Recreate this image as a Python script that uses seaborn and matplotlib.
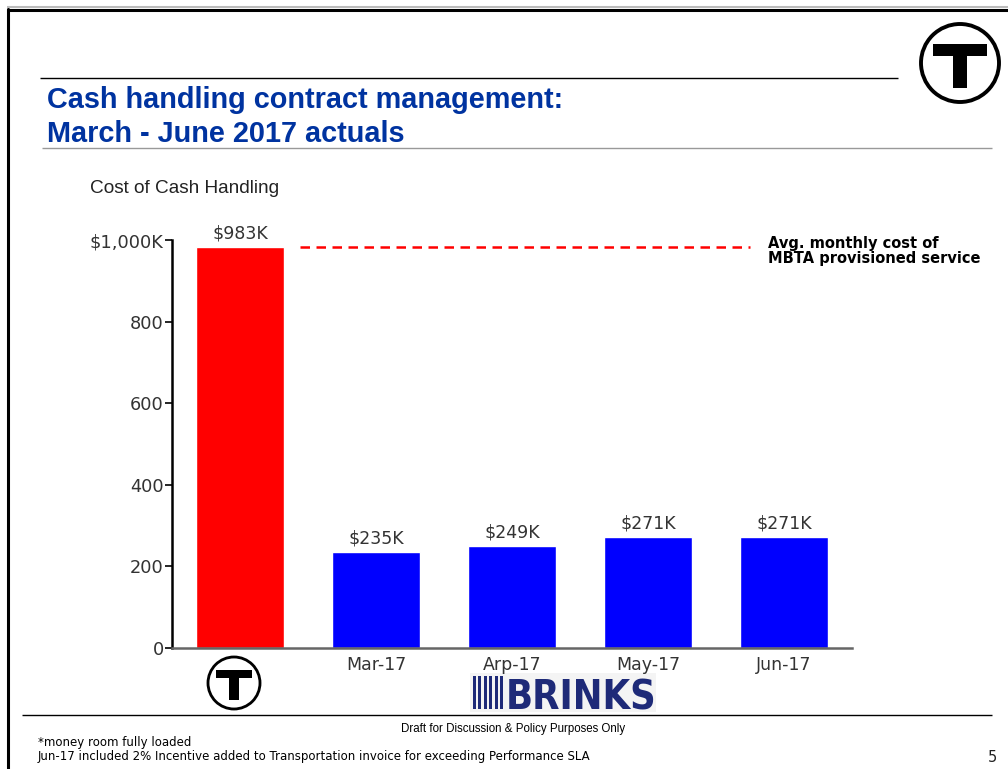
import numpy as np
import matplotlib
matplotlib.use("Agg")
import matplotlib.pyplot as plt
from matplotlib import font_manager
from matplotlib.patches import Circle, Rectangle
import seaborn as sns
import pandas as pd

# data
categories = ["MBTA", "Mar-17", "Arp-17", "May-17", "Jun-17"]
tick_labels = ["", "Mar-17", "Arp-17", "May-17", "Jun-17"]
cost_k = [983, 235, 249, 271, 271]
bar_text = ["$983K", "$235K", "$249K", "$271K", "$271K"]
bar_colors = ["#ff0000", "#0000ff", "#0000ff", "#0000ff", "#0000ff"]
y_ticks = [0, 200, 400, 600, 800, 1000]
y_tick_labels = ["0", "200", "400", "600", "800", "$1,000K"]

W, H = 1008, 769

sns.set_style("white")
plt.rcParams["font.family"] = ["DejaVu Sans"]

# look for a condensed bold face for the logo word
cond = [f for f in font_manager.fontManager.ttflist
        if ("Narrow" in f.name or "Condensed" in f.fname or "Narrow" in f.fname) and f.weight in (700, "bold")]
logo_font = font_manager.FontProperties(fname=cond[0].fname) if cond else None

fig = plt.figure(figsize=(W / 100, H / 100), dpi=100)

# background axes in pixel coords for slide decoration
bg = fig.add_axes([0, 0, 1, 1])
bg.set_xlim(0, W)
bg.set_ylim(H, 0)
bg.axis("off")


def hline(x0, x1, y, color="black", lw=1.5):
    bg.plot([x0, x1], [y, y], color=color, lw=lw, solid_capstyle="butt")


# slide frame
hline(7, W, 7, color="#bbbbbb", lw=1.5)
hline(7, W, 10, lw=2.2)
bg.plot([8, 8], [9, H], color="black", lw=2.2)

hline(40, 898, 78, lw=1.0)
hline(42, 992, 148, color="#999999", lw=1.0)
hline(22, 992, 715, lw=1.0)


def t_logo(cx, cy, r):
    s = r / 39.0
    bg.add_patch(Circle((cx, cy), r, fill=False, ec="black", lw=2.3 * s + 0.5))
    bg.add_patch(Rectangle((cx - 27 * s, cy - 19 * s), 54 * s, 12 * s, color="black", lw=0))
    bg.add_patch(Rectangle((cx - 7 * s, cy - 7 * s), 14 * s, 32 * s, color="black", lw=0))


t_logo(960, 63, 39)
t_logo(234, 683, 26)

# Brinks logo
bg.add_patch(Rectangle((470, 673), 186, 39, color="#f4f4f4", lw=0))
for i in range(6):
    bg.add_patch(Rectangle((473 + i * 5.4, 676), 3.0, 33, color="#1e2a78", lw=0))
if logo_font is not None:
    bg.text(506, 709, "BRINKS", fontproperties=logo_font, fontsize=28.5,
            color="#1e2a78", ha="left", va="baseline")
else:
    bg.text(506, 709, "BRINKS", family="Liberation Sans", weight="bold", fontsize=28,
            color="#1e2a78", ha="left", va="baseline")

# titles and notes
bg.text(47, 108, "Cash handling contract management:", family="Liberation Sans", weight="bold",
        fontsize=20.8, color="#0033a0", ha="left", va="baseline")
bg.text(47, 142, "March - June 2017 actuals", family="Liberation Sans", weight="bold",
        fontsize=20.8, color="#0033a0", ha="left", va="baseline")
bg.text(90, 193, "Cost of Cash Handling", family="Liberation Sans", fontsize=13.7,
        color="#222222", ha="left", va="baseline")
bg.text(513, 732, "Draft for Discussion & Policy Purposes Only", family="Liberation Sans", fontsize=8.3,
        color="black", ha="center", va="baseline")
bg.text(38, 746, "*money room fully loaded", fontsize=8.5, color="black", ha="left", va="baseline")
bg.text(38, 760, "Jun-17 included 2% Incentive added to Transportation invoice for exceeding Performance SLA",
        fontsize=8.5, color="black", ha="left", va="baseline")
bg.text(988, 762, "5", fontsize=10.5, color="#222222", ha="left", va="baseline")

# main chart
ax = fig.add_axes([172 / W, 1 - 648 / H, (852 - 172) / W, (648 - 240) / H])
ax.patch.set_alpha(0)

df = pd.DataFrame({"category": categories, "cost": cost_k})
sns.barplot(data=df, x="category", y="cost", hue="category", palette=bar_colors,
            width=0.65, saturation=1, legend=False, ax=ax)

ax.set_xlim(-0.5, 4.5)
ax.set_ylim(0, 1000)
ax.set_yticks(y_ticks)
ax.set_yticklabels(y_tick_labels)
ax.set_xticks(range(len(categories)))
ax.set_xticklabels(tick_labels)
ax.set_xlabel("")
ax.set_ylabel("")
ax.tick_params(axis="y", left=True, length=5, width=1.2, color="black", labelsize=12.8,
               labelcolor="#333333", pad=1)
ax.tick_params(axis="x", bottom=False, length=0, labelsize=12.5, labelcolor="#333333", pad=6)

sns.despine(ax=ax)
ax.spines["left"].set_color("black")
ax.spines["left"].set_linewidth(1.8)
ax.spines["bottom"].set_color("#666666")
ax.spines["bottom"].set_linewidth(1.8)

for i, (v, t) in enumerate(zip(cost_k, bar_text)):
    ax.text(i, v + 12, t, ha="center", va="bottom", fontsize=12.5, color="#333333", clip_on=False)

# average MBTA cost reference line
ax.axhline(cost_k[0], xmin=0.188, xmax=0.85, color="#ff0000", lw=1.8, ls=(0, (3.8, 2.6)))
ax.text(0.877, cost_k[0] - 10, "Avg. monthly cost of\nMBTA provisioned service", transform=ax.get_yaxis_transform(),
        ha="left", va="center", fontsize=10.5, weight="bold", color="black", linespacing=1.05, clip_on=False)

fig.savefig("out.png", dpi=100)
